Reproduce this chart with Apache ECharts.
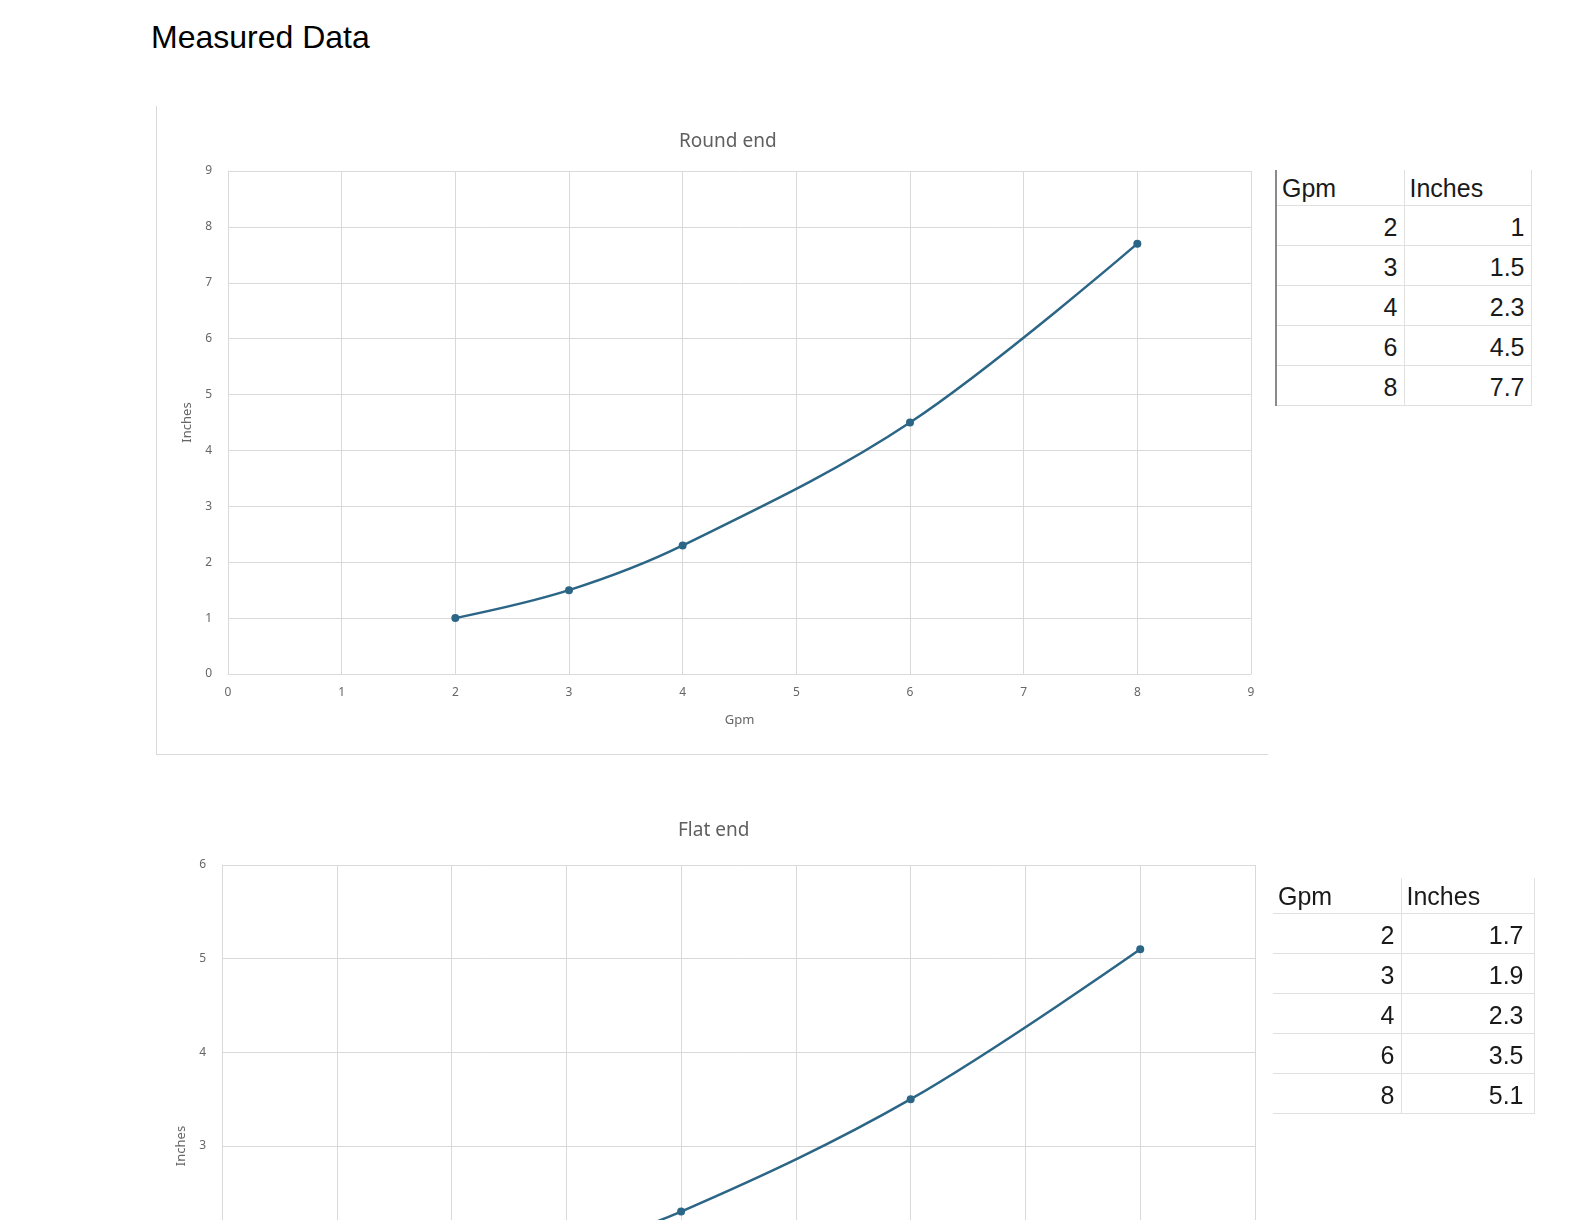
<!DOCTYPE html>
<html>
<head>
<meta charset="utf-8">
<script src="https://cdn.jsdelivr.net/npm/echarts@6/dist/echarts.min.js"></script>
<style>
html, body { margin: 0; padding: 0; background: #fff; }
body { width: 1586px; height: 1220px; overflow: hidden; position: relative; font-family: "Liberation Sans", Arial, sans-serif; }
#pageTitle { position: absolute; left: 151px; top: 19px; font-size: 32px; color: #000; }
.frame { position: absolute; box-sizing: border-box; }
#frame1 { left: 156px; top: 106px; width: 1112px; height: 649px; border-left: 1px solid #d9d9d9; border-bottom: 1px solid #d9d9d9; }
.chart { position: absolute; }
#chart1 { left: 157px; top: 106px; width: 1111px; height: 648px; }
#chart2 { left: 140px; top: 790px; width: 1140px; height: 720px; }
table.data { position: absolute; border-collapse: collapse; font-size: 25px; color: #1a1a1a; }
table.data td { padding: 0 6px 3px 6px; border-bottom: 1px solid #e0e0e0; border-right: 1px solid #e0e0e0; vertical-align: bottom; box-sizing: border-box; }
table.data tr.head td { height: 35px; text-align: left; padding-left: 5px; padding-bottom: 2px; }
table.data tr.row td { height: 40px; text-align: right; }
#table1 td.c1 { width: 128px; }
#table1 td.c2 { width: 127px; }
#table2 td.c1 { width: 128px; }
#table2 td.c2 { width: 133px; }
#table2 tr.row td.c2 { padding-right: 10px; }
#table1 { left: 1275px; top: 170px; border-left: 2px solid #8a8a8a; }
#table2 { left: 1273px; top: 878px; }
</style>
</head>
<body>
<div id="pageTitle">Measured Data</div>
<div class="frame" id="frame1"></div>
<div class="chart" id="chart1"></div>
<div class="chart" id="chart2"></div>
<table class="data" id="table1"></table>
<table class="data" id="table2"></table>
<script>
// measured values
var gpm = [2, 3, 4, 6, 8];
var roundInches = [1, 1.5, 2.3, 4.5, 7.7];
var flatInches = [1.7, 1.9, 2.3, 3.5, 5.1];
var tableHeaders = ['Gpm', 'Inches'];

var lineColor = '#2c6687';
var gridColor = '#d9d9d9';
var labelColor = '#666';

function pairs(xs, ys) {
	var out = [];
	for (var i = 0; i < xs.length; i++) out.push([xs[i], ys[i]]);
	return out;
}

function fillTable(id, xs, ys) {
	var html = '<tr class="head"><td class="c1">' + tableHeaders[0] + '</td><td class="c2">' + tableHeaders[1] + '</td></tr>';
	for (var i = 0; i < xs.length; i++) {
		html += '<tr class="row"><td class="c1">' + xs[i] + '</td><td class="c2">' + ys[i] + '</td></tr>';
	}
	document.getElementById(id).innerHTML = html;
}

function makeOption(o) {
	return {
		animation: false,
		title: {
			text: o.title,
			left: o.titleLeft,
			top: o.titleTop,
			textStyle: { fontFamily: 'Noto Sans', fontSize: 19, fontWeight: 'normal', color: '#5f5f5f' }
		},
		grid: o.grid,
		xAxis: {
			type: 'value',
			min: 0,
			max: 9,
			interval: 1,
			name: 'Gpm',
			nameLocation: 'middle',
			nameGap: o.xNameGap,
			nameTextStyle: { fontFamily: 'Noto Sans', fontSize: 13, color: labelColor },
			axisLine: { show: true, lineStyle: { color: gridColor, width: 1 } },
			axisTick: { show: false },
			axisLabel: { margin: 13, fontFamily: 'Noto Sans', fontSize: o.labelSize, color: labelColor },
			splitLine: { show: true, lineStyle: { color: gridColor, width: 1 } }
		},
		yAxis: {
			type: 'value',
			min: 0,
			max: o.yMax,
			interval: 1,
			name: 'Inches',
			nameLocation: 'middle',
			nameGap: o.yNameGap,
			nameTextStyle: { fontFamily: 'Noto Sans', fontSize: 13, color: labelColor },
			axisLine: { show: true, lineStyle: { color: gridColor, width: 1 } },
			axisTick: { show: false },
			axisLabel: { margin: 16, fontFamily: 'Noto Sans', fontSize: o.labelSize, color: labelColor },
			splitLine: { show: true, lineStyle: { color: gridColor, width: 1 } }
		},
		series: [{
			type: 'line',
			data: o.data,
			smooth: 0.35,
			symbol: 'circle',
			symbolSize: 8,
			lineStyle: { color: lineColor, width: 2.5 },
			itemStyle: { color: lineColor }
		}]
	};
}

var chart1 = echarts.init(document.getElementById('chart1'));
chart1.setOption(makeOption({
	title: 'Round end',
	titleLeft: 517,
	titleTop: 21,
	grid: { left: 71, top: 65, right: 17, bottom: 80 },
	yMax: 9,
	xNameGap: 40,
	yNameGap: 32,
	labelSize: 12,
	data: pairs(gpm, roundInches)
}));

var chart2 = echarts.init(document.getElementById('chart2'));
chart2.setOption(makeOption({
	title: 'Flat end',
	titleLeft: 533,
	titleTop: 26,
	grid: { left: 82, top: 75, right: 25, bottom: 83 },
	yMax: 6,
	xNameGap: 40,
	yNameGap: 31,
	labelSize: 12,
	data: pairs(gpm, flatInches)
}));

fillTable('table1', gpm, roundInches);
fillTable('table2', gpm, flatInches);
</script>
</body>
</html>
